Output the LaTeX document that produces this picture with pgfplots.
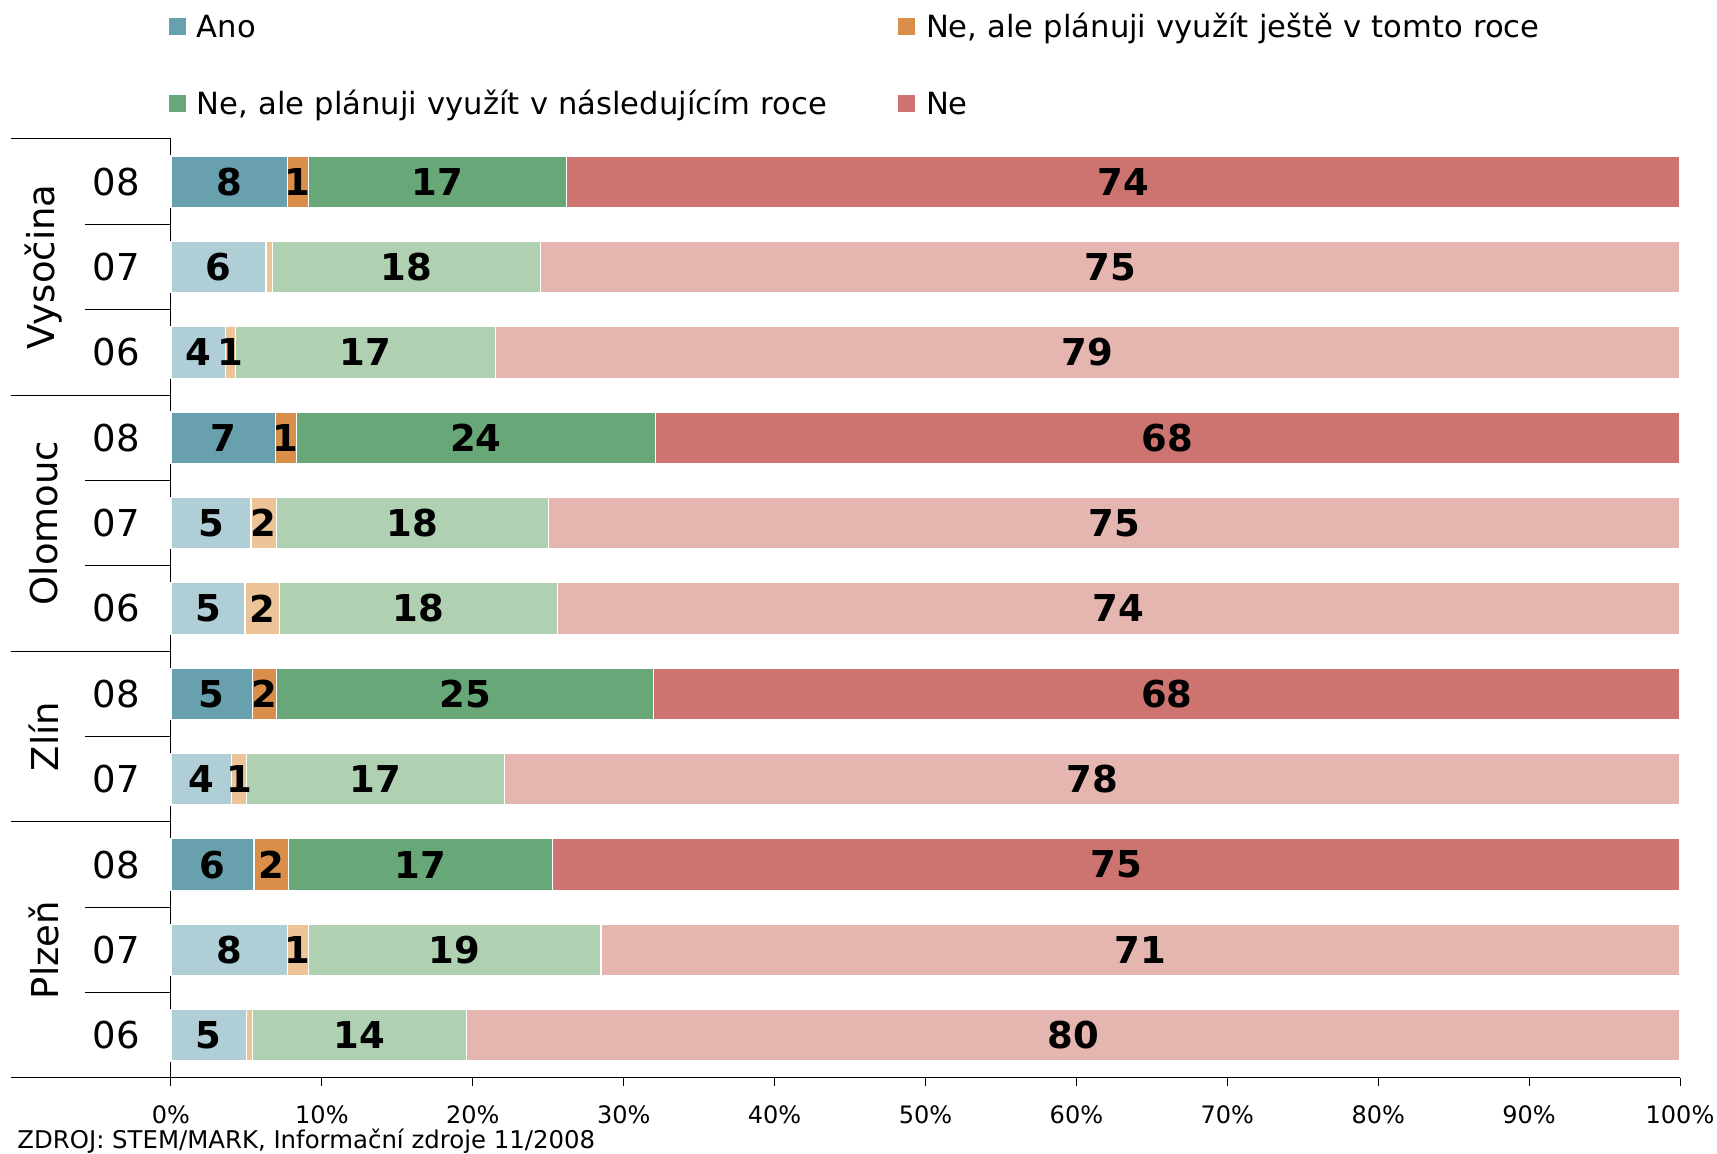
\documentclass[border=0pt]{standalone}
\usepackage{pgfplots}
\pgfplotsset{compat=1.18}
\usepackage{pgfplotstable}
\usepackage{fontspec}
\setmainfont{DejaVu Sans}

\definecolor{anoD}{HTML}{68A0AD}
\definecolor{anoL}{HTML}{B0CED6}
\definecolor{oraD}{HTML}{D98F4A}
\definecolor{oraL}{HTML}{ECC498}
\definecolor{griD}{HTML}{68A778}
\definecolor{griL}{HTML}{AFD1B1}
\definecolor{redD}{HTML}{CD7370}
\definecolor{redL}{HTML}{E5B5B0}

% row: 10 = Vysocina 08 (top) ... 0 = Plzen 06 (bottom); dk = 1 for 2008 rows
\pgfplotstableread{
row dk a b c d la lb lc ld
10 1 7.7 1.4 17.1 73.8 8 1 17 74
9 0 6.3 0.4 17.8 75.5 6 {} 18 75
8 0 3.6 0.7 17.2 78.5 4 1 17 79
7 1 6.9 1.4 23.8 67.9 7 1 24 68
6 0 5.3 1.7 18.0 75.0 5 2 18 75
5 0 4.9 2.3 18.4 74.4 5 2 18 74
4 1 5.4 1.6 25.0 68.0 5 2 25 68
3 0 4.0 1.0 17.1 77.9 4 1 17 78
2 1 5.5 2.3 17.5 74.7 6 2 17 75
1 0 7.7 1.4 19.4 71.5 8 1 19 71
0 0 5.0 0.4 14.2 80.4 5 {} 14 80
}\data

\pgfplotsset{
  sqlegend/.style={legend image code/.code={
      \fill[##1] (0pt,-4.25pt) rectangle (8.5pt,4.25pt); \path (14pt,0pt);}},
  geom/.style={at={(0,0)}, anchor=south west, scale only axis,
    width=754.5pt, height=469.5pt, xmin=0, xmax=100, ymin=-0.5, ymax=10.5,
    enlargelimits=false, clip=false},
}

\begin{document}
\begin{tikzpicture}
\useasboundingbox (-85.5pt,-38pt) rectangle (773pt,539pt);
\begin{axis}[
  geom,
  xbar stacked, bar width=25.75pt,
  axis x line*=bottom, axis y line*=left,
  axis line style={line width=0.5pt, black},
  xtick={0,10,...,100},
  xticklabels={0\%,10\%,20\%,30\%,40\%,50\%,60\%,70\%,80\%,90\%,100\%},
  xticklabel style={font=\fontsize{12}{14}\selectfont, inner sep=0pt, anchor=north, yshift=-9.5pt},
  tick align=outside, major tick length=4pt,
  xtick style={line width=0.5pt, black},
  ytick={0,...,10},
  yticklabels={06,07,08,07,08,06,07,08,06,07,08},
  ytick style={draw=none},
  yticklabel style={font=\fontsize{18.5}{20}\selectfont, inner sep=0pt, anchor=east, xshift=-11.5pt},
  legend columns=2,
  legend cell align=left,
  legend style={draw=none, fill=none, inner sep=0pt, outer sep=0pt,
    at={(0,1)}, anchor=south west, xshift=-1pt, yshift=10.75pt,
    font=\fontsize{15.3}{17}\selectfont, column sep=0pt, row sep=24.5pt,
    nodes={inner sep=0pt, text width=350.5pt, align=left, text height=12.5pt, text depth=1.5pt}},
  every axis plot/.append style={draw=white, line width=0.6pt},
]
\addlegendimage{sqlegend, fill=anoD, draw=none}
\addlegendentry{Ano}
\addlegendimage{sqlegend, fill=oraD, draw=none}
\addlegendentry{Ne, ale plánuji využít ještě v tomto roce}
\addlegendimage{sqlegend, fill=griD, draw=none}
\addlegendentry{Ne, ale plánuji využít v následujícím roce}
\addlegendimage{sqlegend, fill=redD, draw=none}
\addlegendentry{Ne}

\addplot[fill=anoD] table[y=row, x expr=\thisrow{a}*\thisrow{dk}] {\data};
\addplot[fill=anoL] table[y=row, x expr=\thisrow{a}*(1-\thisrow{dk})] {\data};
\addplot[fill=oraD] table[y=row, x expr=\thisrow{b}*\thisrow{dk}] {\data};
\addplot[fill=oraL] table[y=row, x expr=\thisrow{b}*(1-\thisrow{dk})] {\data};
\addplot[fill=griD] table[y=row, x expr=\thisrow{c}*\thisrow{dk}] {\data};
\addplot[fill=griL] table[y=row, x expr=\thisrow{c}*(1-\thisrow{dk})] {\data};
\addplot[fill=redD] table[y=row, x expr=\thisrow{d}*\thisrow{dk}] {\data};
\addplot[fill=redL] table[y=row, x expr=\thisrow{d}*(1-\thisrow{dk})] {\data};

% left structure lines
\draw[line width=0.5pt] (axis cs:0,10.5) -- ++(-80pt,0pt);
\draw[line width=0.5pt] (axis cs:0,7.5) -- ++(-80pt,0pt);
\draw[line width=0.5pt] (axis cs:0,4.5) -- ++(-80pt,0pt);
\draw[line width=0.5pt] (axis cs:0,2.5) -- ++(-80pt,0pt);
\draw[line width=0.5pt] (axis cs:0,-0.5) -- ++(-80pt,0pt);
\draw[line width=0.5pt] (axis cs:0,9.5) -- ++(-43pt,0pt);
\draw[line width=0.5pt] (axis cs:0,8.5) -- ++(-43pt,0pt);
\draw[line width=0.5pt] (axis cs:0,6.5) -- ++(-43pt,0pt);
\draw[line width=0.5pt] (axis cs:0,5.5) -- ++(-43pt,0pt);
\draw[line width=0.5pt] (axis cs:0,3.5) -- ++(-43pt,0pt);
\draw[line width=0.5pt] (axis cs:0,1.5) -- ++(-43pt,0pt);
\draw[line width=0.5pt] (axis cs:0,0.5) -- ++(-43pt,0pt);
% group labels
\node[rotate=90, anchor=center, inner sep=0pt, font=\fontsize{18.5}{20}\selectfont]
  at ([xshift=-63.5pt]axis cs:0,9) {Vysočina};
\node[rotate=90, anchor=center, inner sep=0pt, font=\fontsize{18.5}{20}\selectfont]
  at ([xshift=-63.5pt]axis cs:0,6) {Olomouc};
\node[rotate=90, anchor=center, inner sep=0pt, font=\fontsize{18.5}{20}\selectfont]
  at ([xshift=-63.5pt]axis cs:0,3.5) {Zlín};
\node[rotate=90, anchor=center, inner sep=0pt, font=\fontsize{18.5}{20}\selectfont]
  at ([xshift=-63.5pt]axis cs:0,1) {Plzeň};
\node[anchor=base west, inner sep=0pt, font=\fontsize{12.2}{14}\selectfont]
  at ([shift={(-77pt,-35.5pt)}]axis cs:0,-0.5) {ZDROJ: STEM/MARK, Informační zdroje 11/2008};
\end{axis}

\begin{axis}[geom, hide axis,
  nodes near coords,
  point meta=explicit symbolic,
  nodes near coords style={anchor=center, inner sep=0pt, text=black,
    font=\bfseries\fontsize{18.5}{20}\selectfont},
]
\addplot[draw=none, mark=none] table[y=row, x expr=\thisrow{a}/2, meta=la] {\data};
\addplot[draw=none, mark=none] table[y=row, x expr=\thisrow{a}+\thisrow{b}/2, meta=lb] {\data};
\addplot[draw=none, mark=none] table[y=row, x expr=\thisrow{a}+\thisrow{b}+\thisrow{c}/2, meta=lc] {\data};
\addplot[draw=none, mark=none] table[y=row, x expr=\thisrow{a}+\thisrow{b}+\thisrow{c}+\thisrow{d}/2, meta=ld] {\data};
\end{axis}
\end{tikzpicture}
\end{document}
